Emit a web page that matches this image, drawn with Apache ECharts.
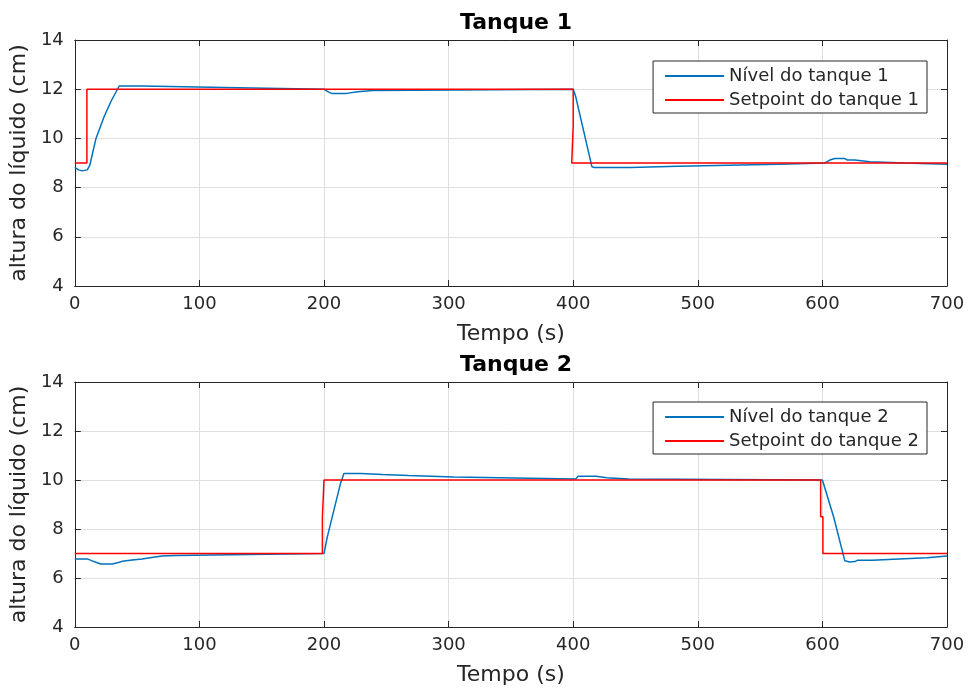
<!DOCTYPE html>
<html>
<head>
<meta charset="utf-8">
<script src="https://cdn.jsdelivr.net/npm/echarts@6/dist/echarts.min.js"></script>
<style>
  html, body { margin: 0; padding: 0; background: #fff; }
  #chart { width: 970px; height: 691px; }
</style>
</head>
<body>
<div id="chart"></div>
<script>
// Tanque 1 - nivel medido
const nivel1Tempo = [0, 3, 6, 10, 12, 17, 23.5, 29, 35.6, 54, 54, 120, 120, 200, 203, 206, 218, 218, 227, 227, 239, 239, 400, 402, 415, 417, 446, 446, 484, 484, 565, 565, 602, 606, 610, 618, 620, 626, 626, 638, 638, 666, 666, 700];
const nivel1Valor = [8.82, 8.72, 8.68, 8.72, 8.9, 10.0, 10.88, 11.5, 12.13, 12.13, 12.07, 12.07, 12.0, 12.0, 11.9, 11.83, 11.83, 11.9, 11.9, 11.95, 11.95, 12.0, 12.0, 11.7, 8.85, 8.82, 8.82, 8.87, 8.87, 8.95, 8.95, 9.0, 9.0, 9.12, 9.18, 9.18, 9.12, 9.12, 9.05, 9.05, 9.0, 9.0, 8.95, 8.95];
// Tanque 1 - setpoint
const sp1Tempo = [0, 9.7, 9.7, 400, 400, 398.8, 398.8, 400, 700];
const sp1Valor = [9, 9, 12, 12, 10.5, 10.5, 9, 9, 9];

// Tanque 2 - nivel medido
const nivel2Tempo = [0, 10, 14, 18, 21, 30, 35, 38, 46, 54, 63, 70, 81, 81, 200, 202.7, 208, 213.3, 216, 229.5, 229.5, 247, 247, 268, 268, 304, 304, 402, 404, 418, 418, 427, 427, 444.5, 444.5, 600, 609, 618, 622, 626, 628, 640, 640, 657, 657, 684, 684, 700];
const nivel2Valor = [6.78, 6.78, 6.7, 6.62, 6.57, 6.57, 6.63, 6.68, 6.73, 6.78, 6.85, 6.9, 6.92, 7.0, 7.0, 7.69, 8.78, 9.87, 10.27, 10.27, 10.22, 10.22, 10.18, 10.18, 10.12, 10.12, 10.04, 10.04, 10.15, 10.15, 10.09, 10.09, 10.04, 10.04, 10.0, 10.0, 8.5, 6.7, 6.65, 6.67, 6.72, 6.72, 6.77, 6.77, 6.83, 6.83, 6.9, 6.9];
// Tanque 2 - setpoint
const sp2Tempo = [0, 198.7, 198.7, 200, 200, 598.6, 598.6, 600.4, 600.4, 700];
const sp2Valor = [7, 7, 8.5, 8.5, 10, 10, 8.5, 8.5, 7, 7];

const xTicks = { min: 0, max: 700, interval: 100 };
const yTicks = { min: 4, max: 14, interval: 2 };

const pares = (t, v) => t.map((x, i) => [x, v[i]]);

const fonte = 'DejaVu Sans';
const cinza = '#262626';
const azul = '#0072BD';
const vermelho = '#FF0000';

function eixoX(grid, principal) {
    return {
        type: 'value', gridIndex: grid,
        min: xTicks.min, max: xTicks.max, interval: xTicks.interval,
        position: principal ? 'bottom' : 'top',
        name: principal ? 'Tempo (s)' : '',
        nameLocation: 'middle', nameGap: 37,
        nameTextStyle: { fontFamily: fonte, fontSize: 22, color: cinza },
        axisLine: { show: true, onZero: false, lineStyle: { color: cinza, width: 1 } },
        axisTick: { show: true, inside: true, length: 6, lineStyle: { color: cinza } },
        axisLabel: { show: principal, margin: 9, fontFamily: fonte, fontSize: 18, color: cinza },
        splitLine: { show: principal, lineStyle: { color: '#dfdfdf', width: 1 } }
    };
}

function eixoY(grid, principal) {
    return {
        type: 'value', gridIndex: grid,
        min: yTicks.min, max: yTicks.max, interval: yTicks.interval,
        position: principal ? 'left' : 'right',
        name: principal ? 'altura do líquido (cm)' : '',
        nameLocation: 'middle', nameGap: 38,
        nameTextStyle: { fontFamily: fonte, fontSize: 22, color: cinza },
        axisLine: { show: true, onZero: false, lineStyle: { color: cinza, width: 1 } },
        axisTick: { show: true, inside: true, length: 6, lineStyle: { color: cinza } },
        axisLabel: { show: principal, margin: 11, fontFamily: fonte, fontSize: 18, color: cinza },
        splitLine: { show: principal, lineStyle: { color: '#dfdfdf', width: 1 } }
    };
}

function legenda(nomes, topo) {
    return {
        data: nomes,
        orient: 'vertical',
        right: 43, top: topo,
        icon: 'rect', itemWidth: 59, itemHeight: 2, itemGap: 4,
        padding: [5, 8, 3, 12],
        borderColor: cinza, borderWidth: 1, backgroundColor: '#fff',
        textStyle: { fontFamily: fonte, fontSize: 18, color: cinza, lineHeight: 20 }
    };
}

function serie(nome, dados, cor, idx) {
    return {
        name: nome, type: 'line', data: dados,
        xAxisIndex: idx * 2, yAxisIndex: idx * 2,
        symbol: 'none', animation: false,
        lineStyle: { color: cor, width: 1.5 },
        itemStyle: { color: cor }
    };
}

const chart = echarts.init(document.getElementById('chart'));
chart.setOption({
    backgroundColor: '#fff',
    animation: false,
    title: [
        { text: 'Tanque 1', left: 511, top: 7, textAlign: 'center',
          textStyle: { fontFamily: fonte, fontSize: 22, fontWeight: 'bold', color: '#000' } },
        { text: 'Tanque 2', left: 511, top: 349, textAlign: 'center',
          textStyle: { fontFamily: fonte, fontSize: 22, fontWeight: 'bold', color: '#000' } }
    ],
    legend: [
        legenda(['Nível do tanque 1', 'Setpoint do tanque 1'], 61),
        legenda(['Nível do tanque 2', 'Setpoint do tanque 2'], 402)
    ],
    grid: [
        { left: 74, right: 23, top: 40, height: 246 },
        { left: 74, right: 23, top: 382, height: 245 }
    ],
    xAxis: [eixoX(0, true), eixoX(0, false), eixoX(1, true), eixoX(1, false)],
    yAxis: [eixoY(0, true), eixoY(0, false), eixoY(1, true), eixoY(1, false)],
    series: [
        serie('Nível do tanque 1', pares(nivel1Tempo, nivel1Valor), azul, 0),
        serie('Setpoint do tanque 1', pares(sp1Tempo, sp1Valor), vermelho, 0),
        serie('Nível do tanque 2', pares(nivel2Tempo, nivel2Valor), azul, 1),
        serie('Setpoint do tanque 2', pares(sp2Tempo, sp2Valor), vermelho, 1)
    ]
});
</script>
</body>
</html>
